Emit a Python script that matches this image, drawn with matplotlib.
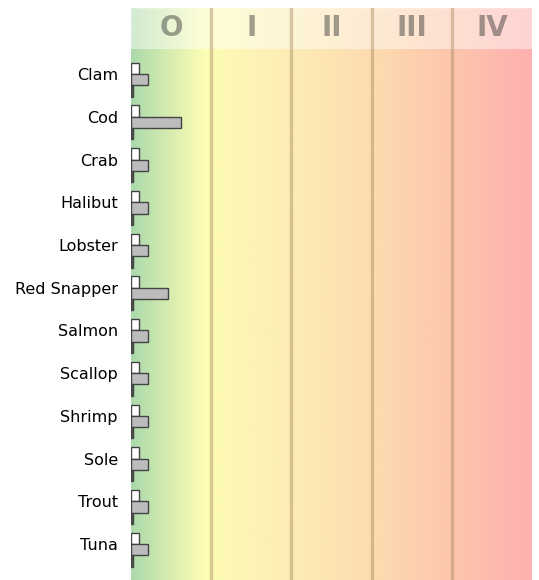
import numpy as np
import matplotlib.pyplot as plt
from matplotlib.colors import LinearSegmentedColormap

fish = ["Clam", "Cod", "Crab", "Halibut", "Lobster", "Red Snapper",
        "Salmon", "Scallop", "Shrimp", "Sole", "Trout", "Tuna"]
stages = ["O", "I", "II", "III", "IV"]

# three measures per species (stage units)
white_vals = [0.10, 0.10, 0.10, 0.10, 0.10, 0.10, 0.10, 0.10, 0.10, 0.10, 0.10, 0.10]
gray_vals = [0.21, 0.62, 0.21, 0.21, 0.21, 0.46, 0.21, 0.21, 0.21, 0.21, 0.21, 0.21]
dark_vals = [0.03] * 12

cmap = LinearSegmentedColormap.from_list(
    "risk", [(0.0, "#acdaac"), (0.18, "#fdfdb4"), (0.4, "#fdecb6"),
             (0.6, "#fddcb0"), (0.8, "#fdc6ac"), (1.0, "#ffb0b0")])
grad = np.linspace(0, 1, 512).reshape(1, -1)

fig = plt.figure(figsize=(5.39, 5.8), dpi=100)
W, H = 539, 580
x0, x1 = 131, 532
hdr_top, hdr_bot = 8, 48.7
ax = fig.add_axes([x0 / W, 0, (x1 - x0) / W, (H - hdr_bot) / H])
axh = fig.add_axes([x0 / W, (H - hdr_bot) / H, (x1 - x0) / W, (hdr_bot - hdr_top) / H])

n = len(fish)
ylo, yhi = n - 1 + 0.71, -0.726
for a, y0, y1 in [(ax, ylo, yhi), (axh, 0, 1)]:
    a.imshow(grad, cmap=cmap, aspect="auto", extent=[0, 5, y0, y1], zorder=0)
    a.set_xlim(0, 5)
    for xv in range(1, 5):
        a.axvline(xv, color="#a88c64", alpha=0.45, lw=2.4, zorder=1)
    for s in a.spines.values():
        s.set_visible(False)
    a.set_xticks([])

# lighten the header band
axh.axhspan(0, 1, color="white", alpha=0.45, zorder=0.5)
axh.set_ylim(0, 1)
axh.set_yticks([])
for i, st in enumerate(stages):
    axh.text(i + 0.5, 0.5, st, ha="center", va="center", fontsize=20,
             fontweight="bold", color="#303030", alpha=0.45, zorder=3)

y = np.arange(n)
h = 0.265
ax.barh(y - h, white_vals, height=h, color="white", edgecolor="#444444", lw=1, zorder=2)
ax.barh(y, gray_vals, height=h, color="#bcbcbc", edgecolor="#444444", lw=1, zorder=2)
ax.barh(y + h, dark_vals, height=h, color="#555555", edgecolor="#444444", lw=1, zorder=2)

ax.set_ylim(ylo, yhi)
ax.set_yticks(y - 0.13)
ax.set_yticklabels(fish, fontsize=11.5)
ax.tick_params(axis="y", length=0, pad=9.5)

fig.savefig("out.png", dpi=100)
